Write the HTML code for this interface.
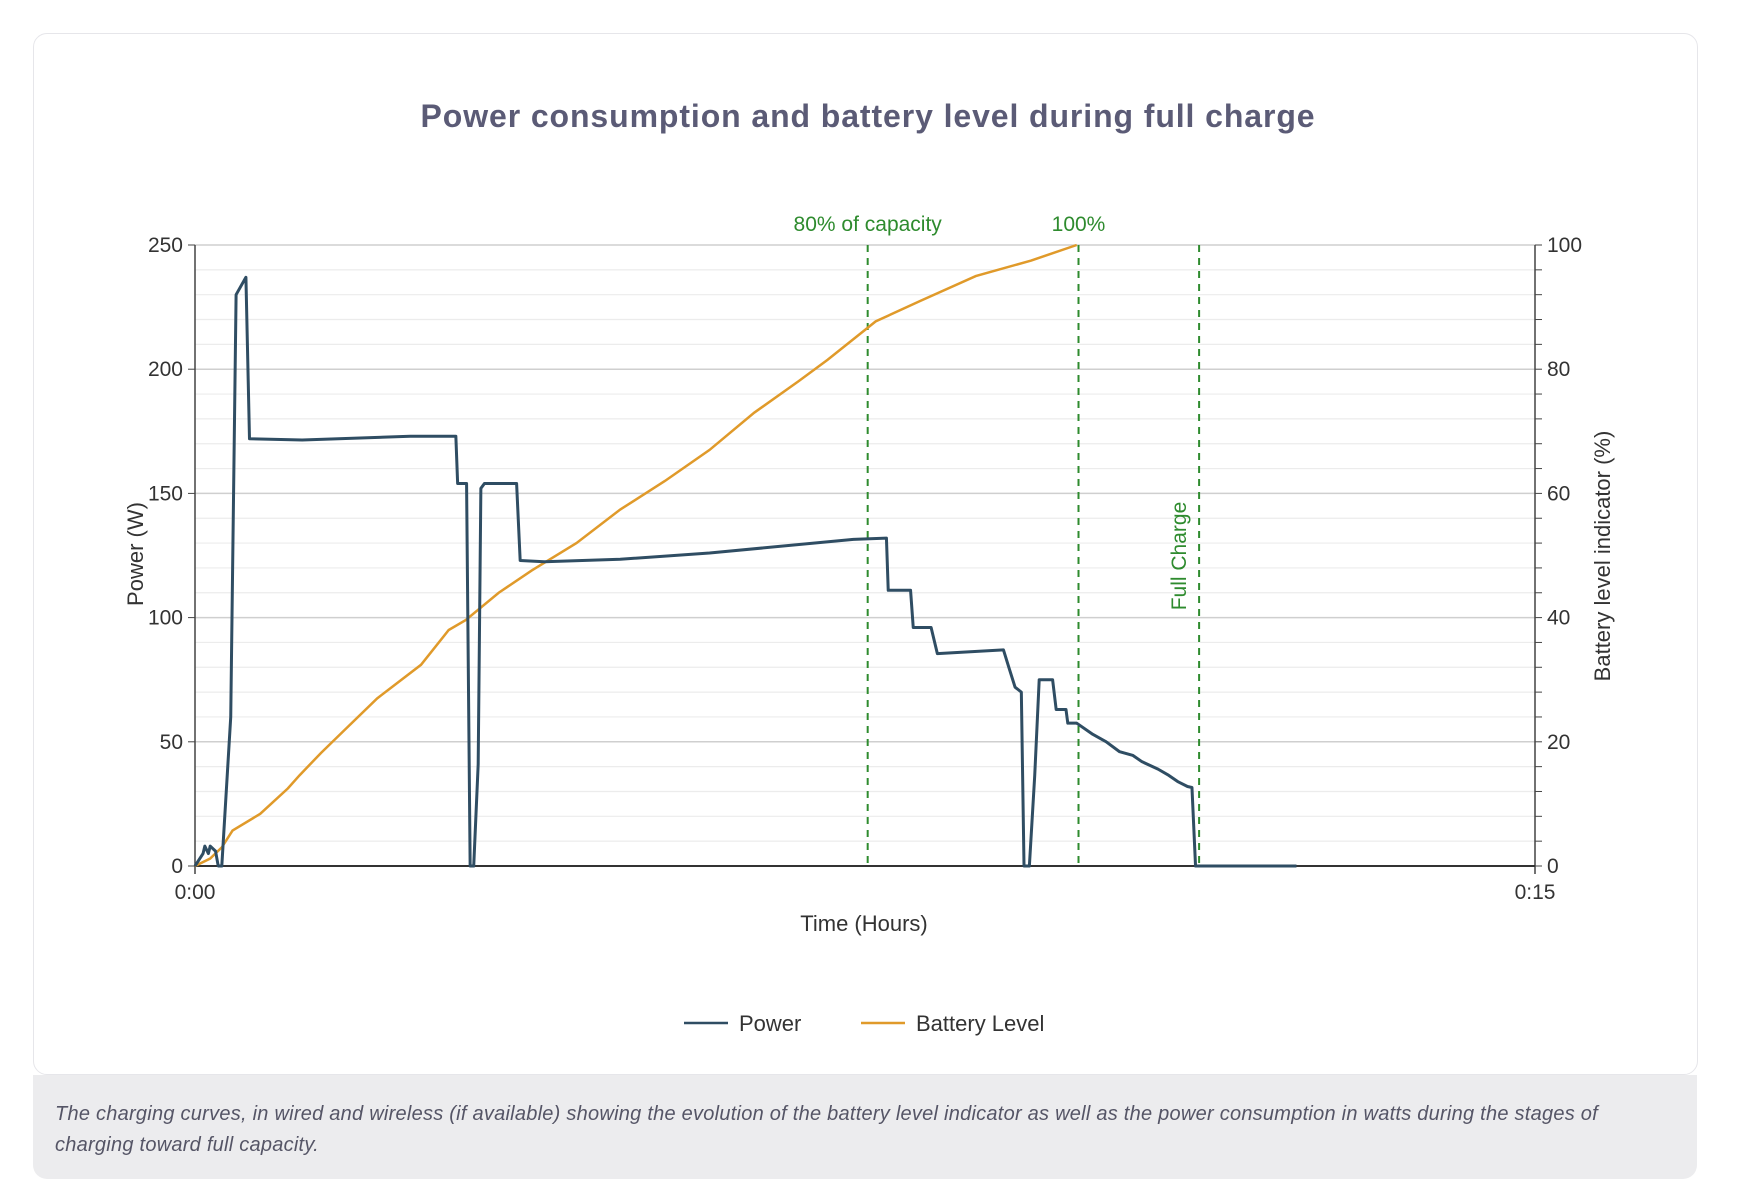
<!DOCTYPE html>
<html><head><meta charset="utf-8"><style>
body{margin:0;background:#fff;width:1737px;height:1200px;overflow:hidden;font-family:"Liberation Sans",sans-serif}
#card{position:absolute;left:33px;top:33px;width:1663px;height:1040px;border:1px solid #e6e6ea;border-radius:14px;background:#fff}
#cap{position:absolute;left:33px;top:1075px;width:1664px;height:104px;background:#ececee;border-radius:0 0 14px 14px}
#cap p{margin:0;padding:24px 22px;font-style:italic;color:#555566;font-size:20px;letter-spacing:0.25px;line-height:31px}
svg{position:absolute;left:0;top:0}
</style></head><body>
<div id="card"></div>
<div id="cap"><p>The charging curves, in wired and wireless (if available) showing the evolution of the battery level indicator as well as the power consumption in watts during the stages of charging toward full capacity.</p></div>
<svg id="chart" width="1737" height="1200"></svg>
<script>
const powerTimes=[0,0.09,0.11,0.15,0.17,0.23,0.26,0.3,0.4,0.46,0.57,0.61,1.2,2.41,2.92,2.94,3.04,3.08,3.12,3.17,3.2,3.24,3.6,3.64,3.91,4.76,5.76,7.37,7.74,7.76,8.01,8.04,8.24,8.31,9.05,9.11,9.18,9.25,9.28,9.34,9.4,9.45,9.6,9.64,9.75,9.77,9.87,10.05,10.2,10.35,10.5,10.6,10.78,10.9,11.0,11.11,11.16,11.2,12.33];
const powerValues=[0,5,8,5,8,6,0,0,60,230,237,172,171.5,173,173,154,154,0,0,41,152,154,154,123,122.5,123.5,126,131.5,132,111,111,96,96,85.5,87,80,72,70,0,0,36.5,75,75,63,63,57.5,57.5,53,50,46,44.5,42,39,36.5,34,32,31.6,0,0];
const batTimes=[0,0.17,0.3,0.42,0.73,1.04,1.17,1.41,1.66,2.04,2.53,2.84,3.03,3.4,3.77,4.27,4.76,5.26,5.76,6.26,6.75,7.08,7.62,8.12,8.74,9.36,9.87];
const batValues=[0,1.2,3,5.7,8.4,12.5,14.6,18.2,21.7,27,32.4,38,39.6,44,47.6,52,57.4,62,67,73,78,81.5,87.7,91,95,97.5,100];
const leftTicks=[0,50,100,150,200,250];
const rightTicks=[0,20,40,60,80,100];
const markers=[{t:7.53,label:"80% of capacity"},{t:9.89,label:"100%"},{t:11.24,label:"Full Charge"}];
const L=195,R=1535,T=245,B=866,TMAX=15;
const xs=t=>L+t/TMAX*(R-L), yp=v=>B-v/250*(B-T), yb=v=>B-v/100*(B-T);
const svg=document.getElementById('chart'),NS='http://www.w3.org/2000/svg';
function mk(tag,a,txt){const e=document.createElementNS(NS,tag);for(const k in a)e.setAttribute(k,a[k]);if(txt!=null)e.textContent=txt;svg.appendChild(e);return e;}
let e=mk('text',{x:868,y:127,'text-anchor':'middle','font-size':32,'font-weight':'bold',fill:'#5b5b76','letter-spacing':'0.9'},'Power consumption and battery level during full charge');


for(let v=0;v<=250;v+=10){
 const major=v%50===0;
 e=mk('line',{x1:L,x2:R,y1:yp(v),y2:yp(v),stroke:major?'#cfcfcf':'#ececec','stroke-width':major?1.5:1.2});
 
 
 e=mk('line',{x1:R,x2:R+7,y1:yp(v),y2:yp(v),stroke:'#444'});
 
 
}
leftTicks.forEach(v=>{
 e=mk('line',{x1:L-7,x2:L,y1:yp(v),y2:yp(v),stroke:'#444'});
 
 
 e=mk('text',{x:L-12,y:yp(v)+7,'text-anchor':'end','font-size':21,fill:'#333'},v);
 
 
});
rightTicks.forEach(v=>{
 e=mk('text',{x:R+12,y:yb(v)+7,'font-size':21,fill:'#333'},v);
 
 
});
e=mk('line',{x1:L,x2:L,y1:T,y2:B+8,stroke:'#444','stroke-width':1.5});
e=mk('line',{x1:R,x2:R,y1:T,y2:B+8,stroke:'#444','stroke-width':1.5});
e=mk('line',{x1:L,x2:R,y1:B,y2:B,stroke:'#333','stroke-width':2});
[['0:00',0],['0:15',15]].forEach(([s,t])=>{e=mk('text',{x:xs(t),y:899,'text-anchor':'middle','font-size':21,fill:'#333'},s);});
e=mk('text',{x:864,y:931,'text-anchor':'middle','font-size':22,fill:'#333'},'Time (Hours)');
e=mk('text',{x:0,y:0,'text-anchor':'middle','font-size':22,fill:'#333',transform:'translate(143,554) rotate(-90)'},'Power (W)');
e=mk('text',{x:0,y:0,'text-anchor':'middle','font-size':22,fill:'#333',transform:'translate(1610,556) rotate(-90)'},'Battery level indicator (%)');
markers.forEach((m,i)=>{
 e=mk('line',{x1:xs(m.t),x2:xs(m.t),y1:T,y2:B,stroke:'#2e8b2e','stroke-width':2,'stroke-dasharray':'7,6'});
 
 
 if(i<2)e=mk('text',{x:xs(m.t),y:231,'text-anchor':'middle','font-size':21,fill:'#2e8b2e'},m.label);
 else e=mk('text',{x:0,y:0,'text-anchor':'middle','font-size':21,fill:'#2e8b2e',transform:`translate(${xs(m.t)-13},556) rotate(-90)`},m.label);
 
 
});
e=mk('polyline',{points:batTimes.map((t,i)=>xs(t)+','+yb(batValues[i])).join(' '),fill:'none',stroke:'#e09a2a','stroke-width':2.5});


e=mk('polyline',{points:powerTimes.map((t,i)=>xs(t)+','+yp(powerValues[i])).join(' '),fill:'none',stroke:'#2f4d63','stroke-width':3,'stroke-linejoin':'round'});


e=mk('line',{x1:684,x2:728,y1:1023,y2:1023,stroke:'#2f4d63','stroke-width':2.5});
e=mk('text',{x:739,y:1031,'font-size':22,fill:'#333'},'Power');
e=mk('line',{x1:861,x2:905,y1:1023,y2:1023,stroke:'#e09a2a','stroke-width':2.5});
e=mk('text',{x:916,y:1031,'font-size':22,fill:'#333'},'Battery Level');
</script>
</body></html>
